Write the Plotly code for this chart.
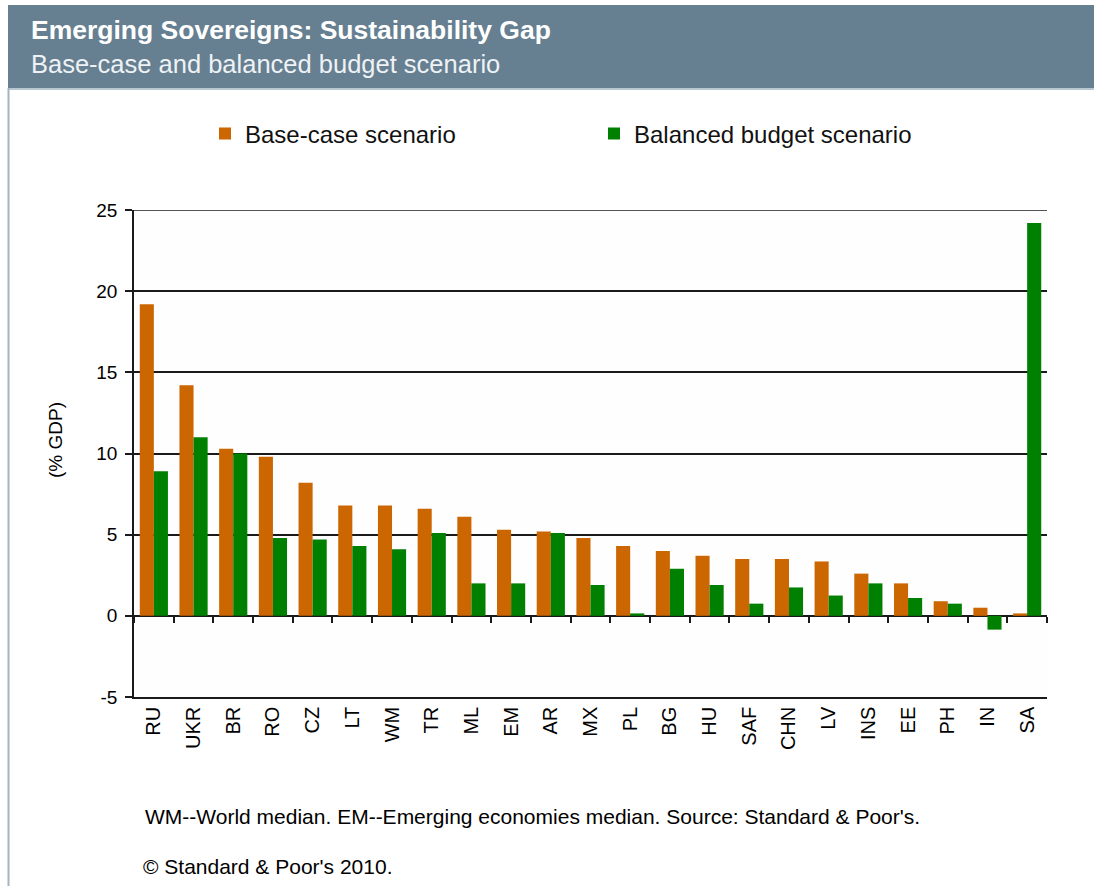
import plotly.graph_objects as go

categories = ["RU", "UKR", "BR", "RO", "CZ", "LT", "WM", "TR", "ML", "EM", "AR", "MX",
              "PL", "BG", "HU", "SAF", "CHN", "LV", "INS", "EE", "PH", "IN", "SA"]
base_case = [19.2, 14.2, 10.3, 9.8, 8.2, 6.8, 6.8, 6.6, 6.1, 5.3, 5.2, 4.8,
             4.3, 4.0, 3.7, 3.5, 3.5, 3.35, 2.6, 2.0, 0.9, 0.5, 0.15]
balanced = [8.9, 11.0, 10.0, 4.8, 4.7, 4.3, 4.1, 5.1, 2.0, 2.0, 5.1, 1.9,
            0.15, 2.9, 1.9, 0.75, 1.75, 1.25, 2.0, 1.1, 0.75, -0.85, 24.2]
series_names = ["Base-case scenario", "Balanced budget scenario"]
y_ticks = [-5, 0, 5, 10, 15, 20, 25]
y_tick_labels = ["-5", "0", "5", "10", "15", "20", "25"]

ORANGE = "#cc6600"
GREEN = "#008000"
AXIS = "#1a1a1a"
FONT = "Liberation Sans, Arial, sans-serif"

W, H = 1094, 886
L, R, T, B = 134, 1047, 210, 697  # plot area pixel box


def px(x):
    return (x - L) / (R - L)


def py(y):
    return (B - y) / (B - T)


fig = go.Figure()
fig.add_trace(go.Bar(x=categories, y=base_case, name=series_names[0],
                     marker=dict(color=ORANGE, line=dict(width=0))))
fig.add_trace(go.Bar(x=categories, y=balanced, name=series_names[1],
                     marker=dict(color=GREEN, line=dict(width=0))))
# invisible trace to carry the zero-line category axis (ticks on boundaries)
fig.add_trace(go.Scatter(x=categories, y=[None] * len(categories), xaxis="x2",
                         showlegend=False, hoverinfo="skip", mode="markers"))

fig.update_layout(
    width=W, height=H,
    margin=dict(l=L, r=W - R, t=T, b=H - B, pad=0),
    paper_bgcolor="white",
    plot_bgcolor="#fefefe",
    barmode="group",
    bargap=0.29,
    bargroupgap=0,
    font=dict(family=FONT, size=18, color="#000000"),
    showlegend=True,
    legend=dict(orientation="h", x=px(205), y=py(134), xanchor="left", yanchor="middle",
                font=dict(size=24, family=FONT, color="#111111"), bgcolor="rgba(0,0,0,0)",
                entrywidth=344, itemsizing="constant", traceorder="normal"),
    xaxis=dict(type="category", range=[-0.5, len(categories) - 0.5],
               showline=True, linecolor=AXIS, linewidth=1.5,
               ticks="", showgrid=False, tickangle=-90,
               tickfont=dict(size=20, family=FONT), ticklabelstandoff=0),
    xaxis2=dict(type="category", range=[-0.5, len(categories) - 0.5],
                overlaying="x", anchor="free",
                position=(0 - y_ticks[0]) / (y_ticks[-1] - y_ticks[0]),
                side="bottom", showline=False, showticklabels=False, showgrid=False,
                ticks="outside", tickson="boundaries", ticklen=6, tickwidth=1.5,
                tickcolor=AXIS),
    yaxis=dict(range=[y_ticks[0], y_ticks[-1]], tickvals=y_ticks, ticktext=y_tick_labels,
               showline=True, linecolor=AXIS, linewidth=1.5,
               ticks="outside", ticklen=7, tickwidth=1.5, tickcolor=AXIS,
               showgrid=True, gridcolor=AXIS, gridwidth=1.5,
               zeroline=True, zerolinecolor=AXIS, zerolinewidth=1.5,
               tickfont=dict(size=19, family=FONT), ticklabelstandoff=4),
    shapes=[
        dict(type="rect", xref="paper", yref="paper",
             x0=px(8), x1=px(W + 20), y0=py(88), y1=py(5),
             fillcolor="#667f91", line=dict(width=0), layer="below"),
        dict(type="line", xref="paper", yref="paper",
             x0=px(8), x1=px(W + 20), y0=py(89), y1=py(89),
             line=dict(color="#b9c7d1", width=2)),
        dict(type="line", xref="paper", yref="paper",
             x0=px(8.5), x1=px(8.5), y0=py(88), y1=py(H + 10),
             line=dict(color="#a3b4c1", width=2)),
        dict(type="rect", xref="paper", yref="paper",
             x0=px(148), x1=px(983), y0=py(158), y1=py(112),
             fillcolor="#ffffff", line=dict(width=0), layer="below"),
        # top gridline at the upper end of the value axis
        dict(type="line", xref="paper", yref="y", x0=0, x1=1,
             y0=y_ticks[-1], y1=y_ticks[-1], line=dict(color=AXIS, width=1.5)),
    ],
    annotations=[
        dict(text="<b>Emerging Sovereigns: Sustainability Gap</b>", xref="paper", yref="paper",
             x=px(29), y=py(30), xanchor="left", yanchor="middle", showarrow=False,
             font=dict(size=26.5, color="#ffffff", family=FONT)),
        dict(text="Base-case and balanced budget scenario", xref="paper", yref="paper",
             x=px(29), y=py(64), xanchor="left", yanchor="middle", showarrow=False,
             font=dict(size=25.5, color="#eef2f5", family=FONT)),
        dict(text="(% GDP)", xref="paper", yref="paper", textangle=-90,
             x=px(55), y=py(440), xanchor="center", yanchor="middle", showarrow=False,
             font=dict(size=19, family=FONT)),
        dict(text="WM--World median. EM--Emerging economies median. Source: Standard &amp; Poor's.",
             xref="paper", yref="paper", x=px(143), y=py(816), xanchor="left", yanchor="middle",
             showarrow=False, font=dict(size=21, family=FONT)),
        dict(text="© Standard &amp; Poor's 2010.",
             xref="paper", yref="paper", x=px(141), y=py(866), xanchor="left", yanchor="middle",
             showarrow=False, font=dict(size=21, family=FONT)),
    ],
)

fig.write_html("out.html", config={"displayModeBar": False},
               post_script="document.body.style.margin='0';")
